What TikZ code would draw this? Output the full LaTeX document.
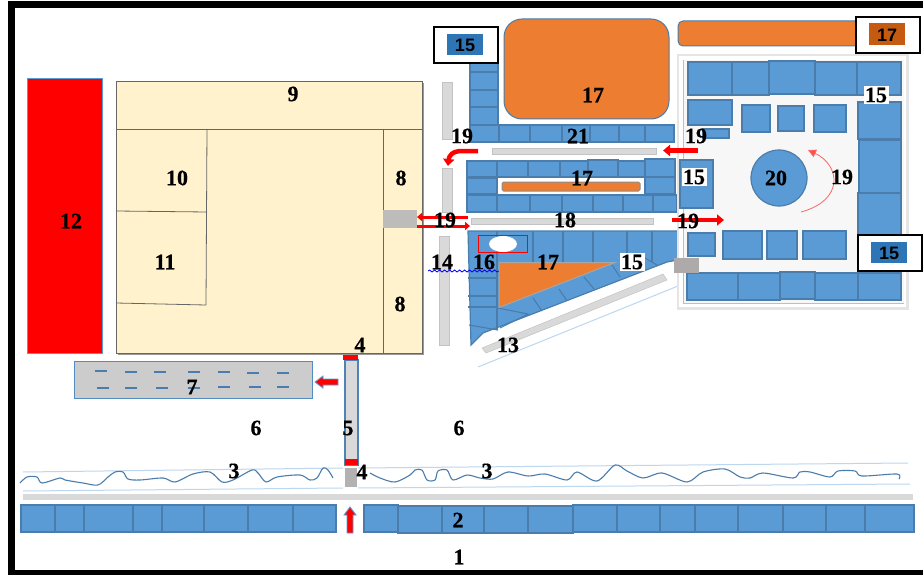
\documentclass[tikz,border=0pt]{standalone}
\usepackage{fontspec}
\setmainfont[BoldFeatures={FakeBold=0.5}]{Liberation Serif}
\newfontfamily\boxfont{Liberation Sans}
\usetikzlibrary{decorations.pathmorphing,arrows.meta}
\definecolor{bl}{HTML}{5B9BD5}
\definecolor{bld}{HTML}{4A7DAB}
\definecolor{org}{HTML}{ED7D31}
\definecolor{orgd}{HTML}{C55A11}
\definecolor{bldark}{HTML}{2E75B6}
\definecolor{cream}{HTML}{FFF2CC}
\definecolor{roadc}{HTML}{D9D9D9}
\definecolor{greyb}{HTML}{AEAAAA}
\definecolor{lbl}{HTML}{BDD7EE}
\tikzset{
 bb/.style={fill=bl,draw=bld,line width=1.2pt},
 bline/.style={draw=bld,line width=1.1pt},
 road/.style={fill=roadc,draw=roadc!90!black,line width=.5pt},
 thinblue/.style={draw=lbl,line width=1pt},
 wave/.style={draw=bld,line width=1.1pt,line join=round},
 bldg/.style={draw=black!60,line width=.8pt},
 redarrow/.style={draw=red,line width=4.5pt,-{Triangle[length=7pt,width=11pt]}},
 redthin/.style={draw=red,line width=3pt,-{Triangle[length=5pt,width=8pt]}},
 lab/.style={font=\fontsize{22}{22}\selectfont\bfseries,inner sep=0pt,text=black},
 wlab/.style={lab,fill=white,inner sep=1.5pt},
 boxlab/.style={font=\boxfont\fontsize{18}{18}\selectfont\bfseries,inner sep=0pt,text=black},
 whitebox/.style={fill=white,draw=black,line width=1.1pt},
 dashb/.style={draw=bld,line width=1.8pt}
}
\newcommand{\lbl}[4]{\node[lab] (#1) at (#2,#3) {#4};}
\begin{document}
\begin{tikzpicture}[x=1pt,y=-1pt]
\useasboundingbox (0,0) rectangle (923,575);
\clip (0,0) rectangle (923,575);
\fill[white] (0,0) rectangle (923,575);
% frame
\draw[black,line width=7pt] (11.5,5) rectangle (935,573);

% red block 12
\draw[fill=red,draw=bl,line width=1pt] (27,79) rectangle (102,353);

% building
\fill[black!40] (118,83) rectangle (424,355);
\draw[fill=cream,bldg] (116,81) rectangle (422,353);
\draw[bldg] (116,129) -- (422,129);
\draw[bldg] (207,129) -- (206,305);
\draw[bldg] (116,211) -- (207,212);
\draw[bldg] (116,303) -- (206,305);
\draw[bldg] (383,129) -- (383,353);
\fill[greyb!80] (383,210) rectangle (417,228);

% vertical road 14
\draw[road] (442,82) rectangle (452,139);
\draw[road] (442,168) rectangle (452,212);
\draw[road] (439,236) rectangle (449,345);

% road 7 block
\draw[fill=black!20,draw=bl!90!black,line width=1pt] (74,361) rectangle (312,398);
\foreach \x/\y in {101/371,131/372,160/372,194/372,224/372,253/373,283/373,103/388,131/388,162/388,194/388,224/387,255/387,283/387}
  \draw[dashb] (\x-6,\y) -- (\x+6,\y);
\draw[fill=red,draw=bl,line width=.9pt] (315,382) -- (323,376) -- (323,379) -- (338,379) -- (338,385) -- (323,385) -- (323,388) -- cycle;

% road 5
\draw[fill=roadc,draw=bl!85!black,line width=1.1pt] (345,360) rectangle (358,465);
\fill[red] (343,355) rectangle (358,360);
\fill[red] (345,459) rectangle (358,465);
\fill[black!30] (345,468) rectangle (357,487);

% lines 3
\draw[thinblue] (23,472) -- (343,468);
\draw[thinblue] (23,491) -- (343,488);
\draw[thinblue] (358,468) -- (908,463);
\draw[thinblue] (358,488) -- (910,484);
\draw[wave] plot[smooth,tension=.5] coordinates {(20,483) (27,477) (37,477) (42,483) (60,478) (65,480) (83,483) (98,485) (108,477) (115,472) (123,472) (128,479) (140,480) (163,478) (175,482) (193,474) (210,472) (222,482) (233,480) (252,470) (258,473) (266,482) (277,477) (300,475) (310,480) (317,478) (323,468) (328,470) (333,478)};
\draw[wave] plot[smooth,tension=.5] coordinates {(370,473) (380,478) (395,482) (410,475) (415,470) (422,470) (427,480) (435,480) (438,471) (447,470) (453,480) (467,475) (480,478) (493,479) (508,472) (528,476) (545,474) (567,480) (577,472) (597,481) (615,465) (627,471) (643,478) (662,473) (687,482) (703,472) (725,469) (740,477) (750,478) (763,473) (793,478) (800,472) (810,472) (830,477) (838,471) (855,471) (862,476) (897,474) (899,479)};

% road 2 strip
\fill[roadc] (23,494) rectangle (913,500);

% row 2
\foreach \a/\b in {21/55,55/84,84/133,133/162,162/204,204/248,248/293,293/336}
  \draw[bb] (\a,505) rectangle (\b,532);
\draw[bb] (364,505) rectangle (398,532);
\foreach \a/\b in {398/442,442/484,484/528,528/573}
  \draw[bb] (\a,506) rectangle (\b,533);
\foreach \a/\b in {573/617,617/660,660/695,695/738,738/783,783/826,826/865,865/914}
  \draw[bb] (\a,505) rectangle (\b,532);
\draw[fill=red,draw=bl,line width=.9pt] (350,507) -- (356,515) -- (353,515) -- (353,533) -- (347,533) -- (347,515) -- (344,515) -- cycle;

% upper orange
\draw[fill=org,draw=bl!80!black,line width=1pt,rounded corners=18pt] (504,19) rectangle (669,119);
\draw[fill=org,draw=bl!80!black,line width=1pt,rounded corners=5pt] (678,21) rectangle (870,46);

% block 15 upper left
\foreach \a/\b in {55/72,72/90,90/107,107/125}
  \draw[bb] (470,\a) rectangle (498,\b);
\foreach \a/\b in {470/499,499/530,530/562,562/590,590/619,619/645,645/674}
  \draw[bb] (\a,125) rectangle (\b,142);
\draw[road] (492,148) rectangle (656,154);

% middle block
\foreach \a/\b in {467/497,497/528,528/560,560/588,618/645}
  \draw[bb] (\a,161) rectangle (\b,177);
\draw[bb] (588,160) rectangle (618,177);
\draw[bb] (645,159) rectangle (675,177);
\draw[bb] (467,178) rectangle (497,194);
\draw[bb] (645,177) rectangle (675,194);
\foreach \a/\b in {467/497,497/530,530/562,562/593,593/623,623/653,653/677}
  \draw[bb] (\a,195) rectangle (\b,212);
\draw[fill=org,draw=black!45,line width=1pt,rounded corners=1.5pt] (502,182) rectangle (640,191);
\draw[road] (471,218) rectangle (653,224);

% lower block
\draw[bb] (468,231) -- (678,231) -- (678,260) -- (667,262) -- (483,333) -- (471,345) -- cycle;
\foreach \x in {497,533,563,593,627,652} \draw[bline] (\x,231) -- (\x,262);
\draw[bline] (497,262) -- (497,330);
\foreach \y in {278,296,307} \draw[bline] (468,\y) -- (497,\y);
\draw[bline] (469,325) -- (498,330);
\draw[bline] (498,308) -- (528,314) -- (500,328);
\draw[bline] (533,298) -- (542,311);
\draw[bline] (559,289) -- (567,301);
\draw[bline] (584,277) -- (594,289);
\draw[bline] (612,265) -- (620,277);
\draw[bline] (645,258) -- (657,265);
\draw[fill=org,draw=black!35,line width=1pt] (499,262.5) -- (615,262.5) -- (499,307.5) -- cycle;
\draw[red,line width=.9pt] (478,235) rectangle (527,252);
\fill[white] (503,244) ellipse (14 and 8);
\draw[road] (482,348) -- (663,274) -- (667,280) -- (486,353) -- cycle;
\draw[thinblue] (478,367) -- (678,286);
\draw[blue,line width=.8pt,decorate,decoration={snake,amplitude=1pt,segment length=5pt}] (428,271) -- (499,271);

% square
\fill[black!10] (677,54) rectangle (909,310);
\fill[white] (679,56) rectangle (906,307);
\fill[black!3] (683,60) rectangle (904,303);
\draw[black!25,line width=1pt] (683,60) -- (683,303) -- (904,303);
\foreach \a/\b in {688/732,732/769,815/857,857/901} \draw[bb] (\a,62) rectangle (\b,95);
\draw[bb] (769,61) rectangle (815,94);
\draw[bb] (688,100) rectangle (732,125);
\draw[bb] (703,129) rectangle (729,138);
\draw[bb] (742,105) rectangle (770,132);
\draw[bb] (778,106) rectangle (804,131);
\draw[bb] (814,105) rectangle (846,132);
\draw[bb] (858,102) rectangle (901,139);
\draw[bb] (859,140) rectangle (901,193);
\draw[bb] (858,193) rectangle (901,235);
\draw[bb] (680,160) rectangle (713,208);
\draw[bb] (688,233) rectangle (715,256);
\draw[bb] (723,231) rectangle (762,259);
\draw[bb] (767,231) rectangle (797,259);
\draw[bb] (803,231) rectangle (846,259);
\draw[bb] (858,235) rectangle (901,273);
\foreach \a/\b in {687/738,738/780,815/858,858/901} \draw[bb] (\a,273) rectangle (\b,300);
\draw[bb] (780,272) rectangle (815,299);
\fill[greyb] (674,258) rectangle (699,273);
\draw[bb] (779,178) circle (28);
\draw[draw=red!60,line width=.8pt,-{Triangle[length=8pt,width=8pt,fill=red!70]}] (801,212) .. controls (845,200) and (840,165) .. (808,150);

% red arrows
\draw[redarrow] (698,150.5) -- (663,150.5);
\draw[redarrow] (478,151) -- (462,151) .. controls (452,151) and (449,156) .. (448,166);
\draw[redarrow] (672,220) -- (724,220);
\draw[redthin] (468,217) -- (417,217);
\draw[redthin] (417,226) -- (470,226);

% white label boxes
\draw[whitebox] (434,27) rectangle (498,63);
\fill[bldark] (447,34) rectangle (483,55);
\node[boxlab] (b15a) at (465,45) {15};
\draw[whitebox] (856,17) rectangle (920,53);
\fill[orgd] (869,23) rectangle (905,45);
\node[boxlab] (b17) at (887,35) {17};
\draw[whitebox] (858,235) rectangle (922,271);
\fill[bldark] (871,242) rectangle (907,263);
\node[boxlab] (b15b) at (889,253) {15};

% labels
\lbl{a1}{459}{557}{1}
\lbl{a2}{458}{520}{2}
\lbl{a3}{234}{471}{3}
\lbl{a3b}{487}{471}{3}
\lbl{a4}{360}{345}{4}
\lbl{a4b}{362}{472}{4}
\lbl{a5}{348}{428}{5}
\lbl{a6}{256}{428}{6}
\lbl{a6b}{459}{428}{6}
\lbl{a7}{192}{387}{7}
\lbl{a8}{401}{178}{8}
\lbl{a8b}{400}{304}{8}
\lbl{a9}{293}{94}{9}
\lbl{a10}{177}{178}{10}
\lbl{a11}{165}{262}{11}
\lbl{a12}{71}{221}{12}
\lbl{a13}{508}{345}{13}
\lbl{a14}{442}{262}{14}
\lbl{a16}{484}{262}{16}
\lbl{a17a}{593}{95}{17}
\lbl{a17b}{582}{178}{17}
\lbl{a17c}{548}{262}{17}
\lbl{a18}{565}{220}{18}
\lbl{a19a}{462}{136}{19}
\lbl{a19b}{696}{136}{19}
\lbl{a19c}{445}{220}{19}
\lbl{a19d}{688}{221}{19}
\lbl{a19e}{842}{177}{19}
\lbl{a20}{776}{178}{20}
\lbl{a21}{578}{136}{21}
\node[wlab] (w15a) at (632,262) {15};
\node[wlab] (w15b) at (694,177) {15};
\node[wlab] (w15c) at (876,95) {15};
\end{tikzpicture}
\end{document}
